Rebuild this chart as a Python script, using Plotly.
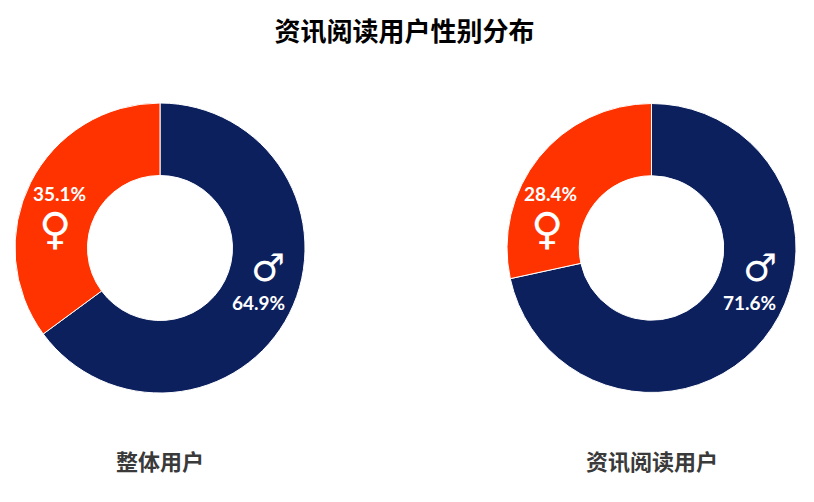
import plotly.graph_objects as go

# data
genders = ['男', '女']
symbols = ['♂', '♀']
overall_share = [64.9, 35.1]
reader_share = [71.6, 28.4]
group_names = ['整体用户', '资讯阅读用户']

colors = ['#0C205E', '#FF3300']
cjk = 'Noto Sans CJK SC'

W, H = 806, 494   # page has an 8px body margin, so figure is drawn from (8, 8)
pie_x = [(7, 297), (499, 788)]
pie_y = [0.2206, 0.8077]

fig = go.Figure()

def note(text, x, y, size, family='Lato', weight='bold'):
    fig.add_annotation(text=text, x=x / W, y=y / H, xref='paper', yref='paper',
                       xanchor='center', yanchor='middle', showarrow=False,
                       font=dict(color='white', size=size, family=family, weight=weight))

for vals, (x0, x1) in zip([overall_share, reader_share], pie_x):
    fig.add_trace(go.Pie(
        labels=genders,
        values=vals,
        textinfo='none',
        hole=0.5,
        sort=False,
        direction='clockwise',
        rotation=0,
        marker=dict(colors=colors, line=dict(color='white', width=1)),
        domain=dict(x=[x0 / W, x1 / W], y=pie_y),
        showlegend=False,
        hoverinfo='label+percent',
    ))
    # labels sit on the ring: male lower right, female upper left
    cx = (x0 + x1) / 2
    cy = (pie_y[0] + pie_y[1]) / 2 * H
    note(symbols[0], cx + 108, cy - 20, 38, 'DejaVu Sans', 'normal')
    note(f'{vals[0]:.1f}%', cx + 98, cy - 54, 19)
    note(f'{vals[1]:.1f}%', cx - 101, cy + 55, 19)
    note(symbols[1], cx - 105, cy + 20, 44, 'DejaVu Sans', 'normal')

fig.update_layout(
    width=W, height=H,
    margin=dict(l=0, r=0, t=0, b=0),
    paper_bgcolor='white',
    plot_bgcolor='white',
    title=dict(text='<b>资讯阅读用户性别分布</b>', x=0.492, y=0.951, xanchor='center', yanchor='middle',
               font=dict(family=cjk, size=26, color='#000000')),
)

for name, (x0, x1) in zip(group_names, pie_x):
    fig.add_annotation(text=f'<b>{name}</b>', x=(x0 + x1) / 2 / W, y=0.085, xref='paper', yref='paper',
                       xanchor='center', yanchor='middle', showarrow=False,
                       font=dict(family=cjk, size=22, color='#3A3A3A'))

fig.write_html('out.html')
